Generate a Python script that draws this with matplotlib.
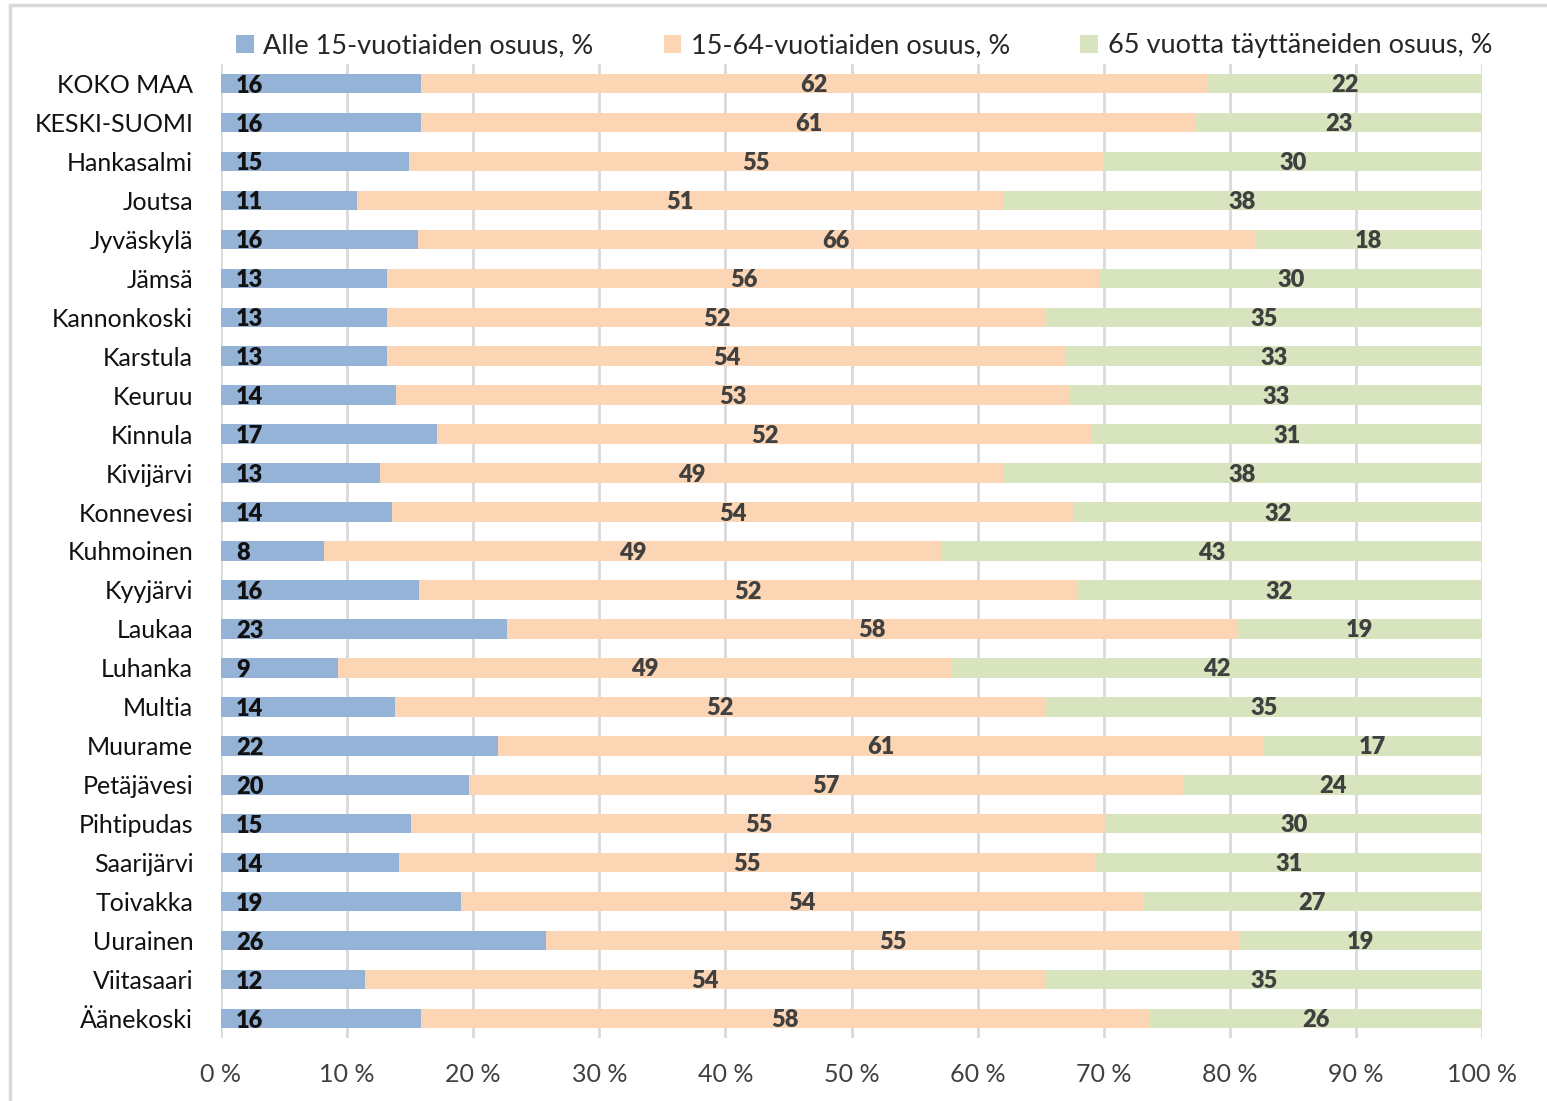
import matplotlib
matplotlib.use("Agg")
import matplotlib.pyplot as plt
from matplotlib.patches import Rectangle
from matplotlib.ticker import FuncFormatter

plt.rcParams['font.family'] = ['Lato', 'DejaVu Sans']

categories = ["KOKO MAA", "KESKI-SUOMI", "Hankasalmi", "Joutsa", "Jyväskylä", "Jämsä",
              "Kannonkoski", "Karstula", "Keuruu", "Kinnula", "Kivijärvi", "Konnevesi",
              "Kuhmoinen", "Kyyjärvi", "Laukaa", "Luhanka", "Multia", "Muurame",
              "Petäjävesi", "Pihtipudas", "Saarijärvi", "Toivakka", "Uurainen",
              "Viitasaari", "Äänekoski"]
under15 = [15.9, 15.9, 14.9, 10.8, 15.6, 13.2, 13.2, 13.2, 13.9, 17.1, 12.6, 13.6,
           8.2, 15.7, 22.7, 9.3, 13.8, 22.0, 19.7, 15.1, 14.1, 19.0, 25.8, 11.4, 15.9]
age15_64 = [62.3, 61.4, 55.1, 51.2, 66.4, 56.5, 52.2, 53.8, 53.4, 52.0, 49.4, 54.0,
            48.9, 52.2, 57.9, 48.6, 51.6, 60.6, 56.6, 55.1, 55.3, 54.1, 55.0, 54.0, 57.7]
over65 = [21.8, 22.7, 30.0, 38.0, 18.0, 30.3, 34.6, 33.0, 32.7, 30.9, 38.0, 32.4,
          42.9, 32.1, 19.4, 42.1, 34.6, 17.4, 23.7, 29.8, 30.6, 26.9, 19.2, 34.6, 26.4]
label_under15 = [16, 16, 15, 11, 16, 13, 13, 13, 14, 17, 13, 14, 8, 16, 23, 9, 14, 22, 20, 15, 14, 19, 26, 12, 16]
label_15_64 = [62, 61, 55, 51, 66, 56, 52, 54, 53, 52, 49, 54, 49, 52, 58, 49, 52, 61, 57, 55, 55, 54, 55, 54, 58]
label_over65 = [22, 23, 30, 38, 18, 30, 35, 33, 33, 31, 38, 32, 43, 32, 19, 42, 35, 17, 24, 30, 31, 27, 19, 35, 26]
series_names = ["Alle 15-vuotiaiden osuus, %", "15-64-vuotiaiden osuus, %",
                "65 vuotta täyttäneiden osuus, %"]
colors = ["#95B3D7", "#FCD5B4", "#D7E4BD"]
xticks = [0, 10, 20, 30, 40, 50, 60, 70, 80, 90, 100]

fig = plt.figure(figsize=(15.47, 11.01), dpi=100)
# outer chart frame
fig.patches.append(Rectangle((10/1547, -0.01), 1.02, 1 - 5/1101 + 0.01, transform=fig.transFigure,
                             fill=False, edgecolor="#D9D9D9", linewidth=2.5, zorder=0))

ax = fig.add_axes([221/1547, 1 - 1038/1101, (1482 - 221)/1547, (1038 - 64)/1101])
y = list(range(len(categories)))
tot = [a + b + c for a, b, c in zip(under15, age15_64, over65)]
p1 = [a / t * 100 for a, t in zip(under15, tot)]
p2 = [b / t * 100 for b, t in zip(age15_64, tot)]
p3 = [c / t * 100 for c, t in zip(over65, tot)]
left2 = p1
left3 = [a + b for a, b in zip(p1, p2)]

b1 = ax.barh(y, p1, height=0.5, color=colors[0], label=series_names[0], zorder=2)
b2 = ax.barh(y, p2, left=left2, height=0.5, color=colors[1], label=series_names[1], zorder=2)
b3 = ax.barh(y, p3, left=left3, height=0.5, color=colors[2], label=series_names[2], zorder=2)

for i in y:
    ax.annotate(str(label_under15[i]), xy=(0, i), xytext=(11, -1.5), textcoords="offset points",
                ha="left", va="center", fontsize=17, fontweight="heavy", color="#111111", zorder=3)
    ax.text(left2[i] + p2[i] / 2, i + 0.04, str(label_15_64[i]), ha="center", va="center",
            fontsize=17, fontweight="heavy", color="#404040", zorder=3)
    ax.text(left3[i] + p3[i] / 2, i + 0.04, str(label_over65[i]), ha="center", va="center",
            fontsize=17, fontweight="heavy", color="#404040", zorder=3)

ax.set_xlim(0, 100)
ax.set_ylim(len(categories) - 0.5, -0.5)
ax.set_xticks(xticks)
ax.xaxis.set_major_formatter(FuncFormatter(lambda v, p: f"{int(v)} %"))
ax.set_yticks(y)
ax.set_yticklabels(categories)
ax.tick_params(axis="y", length=0, pad=20, labelsize=18, labelcolor="#111111")
ax.tick_params(axis="x", length=0, pad=18, labelsize=18, labelcolor="#404040")
ax.grid(axis="x", color="#D9D9D9", linewidth=2, zorder=0)
ax.set_axisbelow(True)
for s in ax.spines.values():
    s.set_visible(False)

leg = fig.legend(handles=[b1, b2, b3], labels=series_names, loc="center",
                 bbox_to_anchor=(864/1547, 1 - 46/1101), ncol=3, frameon=False,
                 fontsize=19.5, handlelength=0.65, handleheight=0.65, handletextpad=0.35,
                 columnspacing=2.6, labelcolor="#262626")

fig.savefig("out.png", dpi=100)
